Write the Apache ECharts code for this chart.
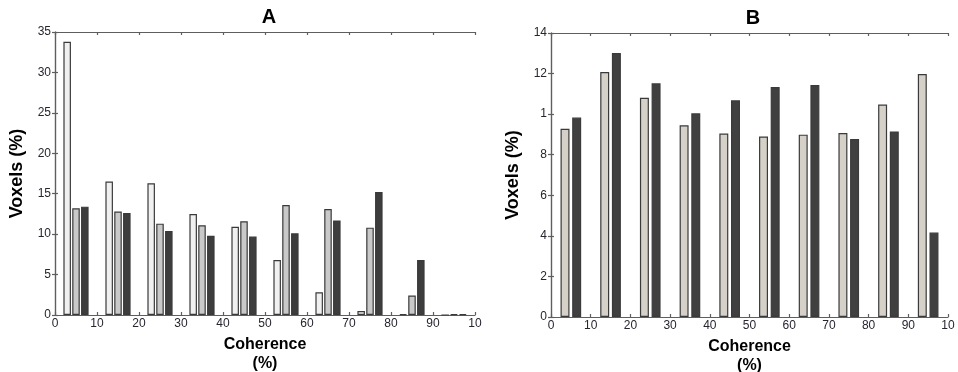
<!DOCTYPE html>
<html>
<head>
<meta charset="utf-8">
<script src="https://cdn.jsdelivr.net/npm/echarts@6/dist/echarts.min.js"></script>
<style>
  html, body { margin: 0; padding: 0; background: #fff; }
  #chart { width: 958px; height: 372px; }
</style>
</head>
<body>
<div id="chart"></div>
<script>
// coherence bins (centres of 10% bins)
var bins = ['5', '15', '25', '35', '45', '55', '65', '75', '85', '95']
var xTicks = [0, 10, 20, 30, 40, 50, 60, 70, 80, 90, 100]

// panel A
var aLight = [33.8, 16.5, 16.3, 12.5, 10.9, 6.8, 2.8, 0.5, 0.1, 0]
var aMid = [13.2, 12.8, 11.3, 11.1, 11.6, 13.6, 13.1, 10.8, 2.4, 0.1]
var aDark = [13.4, 12.6, 10.4, 9.8, 9.7, 10.1, 11.7, 15.2, 6.8, 0.1]
var aYTicks = [0, 5, 10, 15, 20, 25, 30, 35]

// panel B
var bLight = [9.28, 12.08, 10.81, 9.45, 9.04, 8.9, 8.99, 9.07, 10.47, 11.98]
var bDark = [9.83, 13.01, 11.52, 10.04, 10.68, 11.34, 11.44, 8.77, 9.15, 4.16]
var bYTicks = [0, 2, 4, 6, 8, 10, 12, 14]

var frame = '#5e5e5e'
var barLine = '#3a3a3a'
var labelColor = '#262630'
var fontFam = 'Liberation Sans, Arial, sans-serif'

function xAxes(grid) {
  return [
    { gridIndex: grid, type: 'category', data: bins, show: false, position: 'top' },
    {
      gridIndex: grid, type: 'value', position: 'bottom',
      min: xTicks[0], max: xTicks[xTicks.length - 1], interval: 10,
      axisLine: { onZero: false, lineStyle: { color: frame, width: 1.2 } },
      axisTick: { inside: true, length: 3, lineStyle: { color: frame, width: 1.2 } },
      splitLine: { show: false },
      axisLabel: {
        color: labelColor, fontSize: 12, fontFamily: fontFam, margin: 3,
        formatter: function (v) { return v === 100 ? '10' : String(v) }
      },
      name: 'Coherence\n(%)', nameLocation: 'middle', nameGap: 15,
      nameTextStyle: { fontSize: 16, fontWeight: 'bold', color: '#000', fontFamily: fontFam, lineHeight: 19 }
    },
    {
      gridIndex: grid, type: 'value', position: 'top',
      min: xTicks[0], max: xTicks[xTicks.length - 1], interval: 10,
      axisLine: { onZero: false, lineStyle: { color: frame, width: 1.2 } },
      axisTick: { inside: true, length: 3, lineStyle: { color: frame, width: 1.2 } },
      splitLine: { show: false },
      axisLabel: { show: false }
    }
  ]
}

function yAxes(grid, ticks, fmt) {
  var step = ticks[1] - ticks[0]
  var max = ticks[ticks.length - 1]
  return [
    {
      gridIndex: grid, type: 'value', position: 'left', min: 0, max: max, interval: step,
      axisLine: { show: true, lineStyle: { color: frame, width: 1.2 } },
      axisTick: { show: true, inside: true, length: 3, lineStyle: { color: frame, width: 1.2 } },
      splitLine: { show: false },
      axisLabel: { color: labelColor, fontSize: 12, fontFamily: fontFam, margin: 4, formatter: fmt },
      name: 'Voxels (%)', nameLocation: 'middle', nameGap: 29,
      nameTextStyle: { fontSize: 18, fontWeight: 'bold', color: '#000', fontFamily: fontFam }
    },
    {
      gridIndex: grid, type: 'value', position: 'right', min: 0, max: max, interval: step,
      axisLine: { show: true, lineStyle: { color: frame, width: 1.2 } },
      axisTick: { show: true, inside: true, length: 3, lineStyle: { color: frame, width: 1.2 } },
      splitLine: { show: false },
      axisLabel: { show: false }
    }
  ]
}

function bar(data, color, xIdx, yIdx, catGap, gap) {
  return {
    type: 'bar', data: data, xAxisIndex: xIdx, yAxisIndex: yIdx,
    barCategoryGap: catGap, barGap: gap,
    itemStyle: { color: color, borderColor: barLine, borderWidth: 1.2 },
    silent: true, animation: false
  }
}

var chart = echarts.init(document.getElementById('chart'))
var option = {
  backgroundColor: '#fff',
  animation: false,
  title: [
    { text: 'A', left: 264, top: 2, textAlign: 'center',
      textStyle: { fontSize: 20, fontWeight: 'bold', color: '#000', fontFamily: fontFam } },
    { text: 'B', left: 748, top: 3, textAlign: 'center',
      textStyle: { fontSize: 20, fontWeight: 'bold', color: '#000', fontFamily: fontFam } }
  ],
  grid: [
    { left: 55, top: 32, width: 420, height: 283, outerBoundsMode: 'none', containLabel: false },
    { left: 551, top: 33, width: 397, height: 284, outerBoundsMode: 'none', containLabel: false }
  ],
  xAxis: xAxes(0).concat(xAxes(1)),
  yAxis: yAxes(0, aYTicks).concat(yAxes(1, bYTicks, function (v) { return v === 10 ? '1' : String(v) })),
  series: [
    bar(aLight, '#f0f0f0', 0, 0, '40%', '17%'),
    bar(aMid, '#c9c9c9', 0, 0, '40%', '17%'),
    bar(aDark, '#3d3d3d', 0, 0, '40%', '17%'),
    bar(bLight, '#d5d1c9', 3, 2, '48%', '30%'),
    bar(bDark, '#404040', 3, 2, '48%', '30%')
  ]
}
chart.setOption(option)
</script>
</body>
</html>
